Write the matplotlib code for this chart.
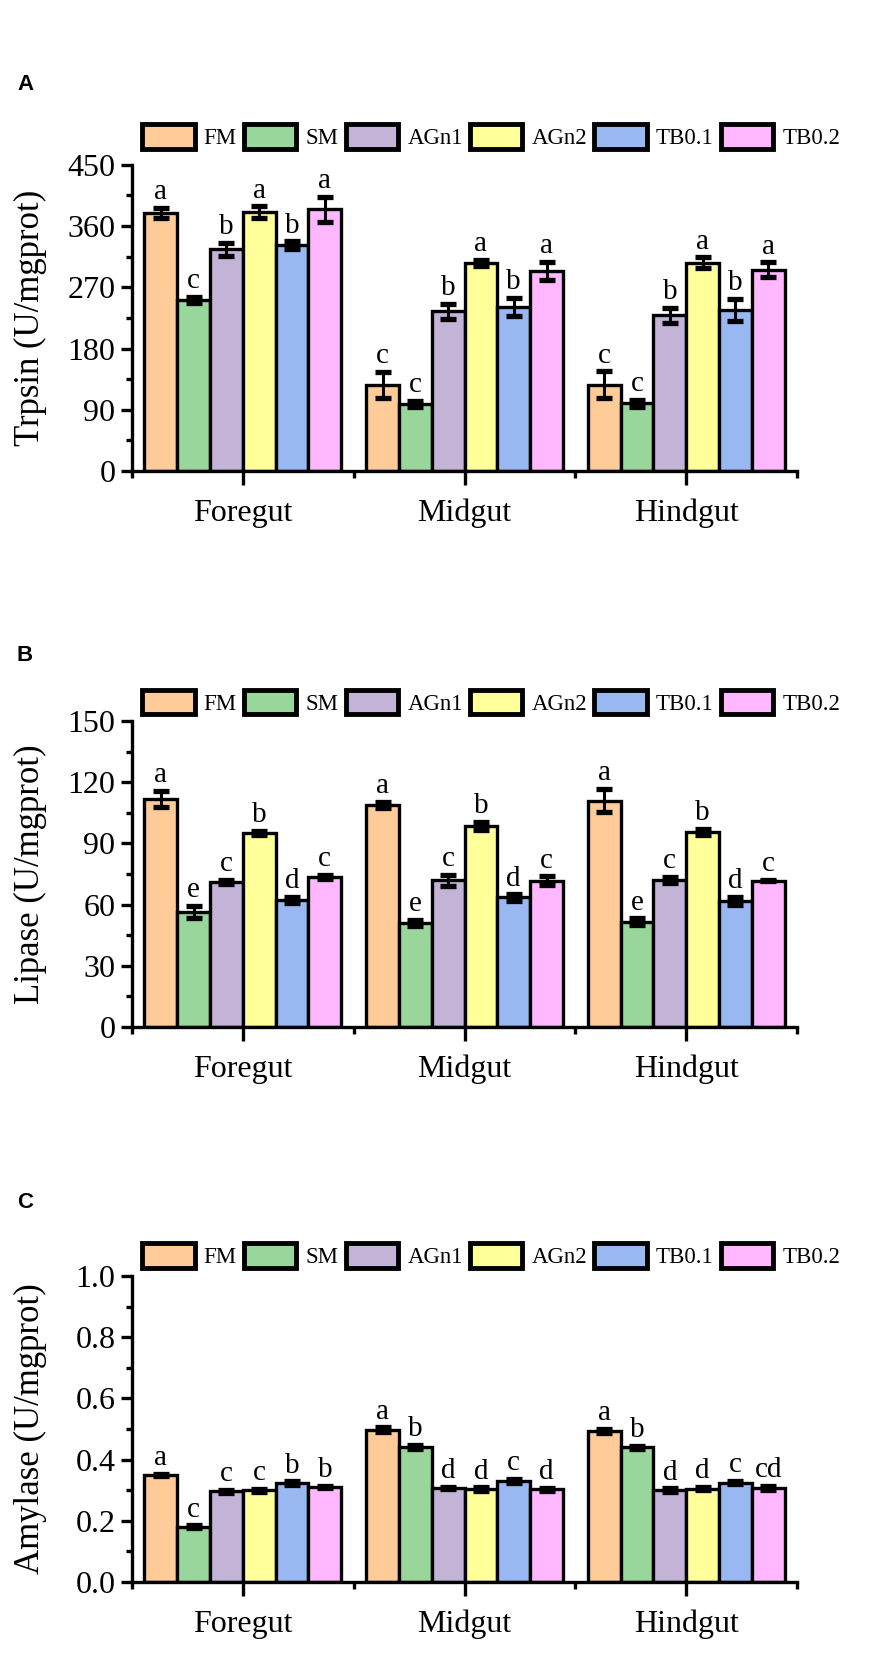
import numpy as np
import matplotlib
matplotlib.use('Agg')
import matplotlib.pyplot as plt
from matplotlib.ticker import MultipleLocator, FixedLocator

plt.rcParams['font.family'] = ['Liberation Serif', 'DejaVu Serif']

groups = ['Foregut', 'Midgut', 'Hindgut']
diets = ['FM', 'SM', 'AGn1', 'AGn2', 'TB0.1', 'TB0.2']
colors = ['#FFCC99', '#99D69B', '#C3B3D7', '#FFFF99', '#99B8F2', '#FFB8FF']

# rows = groups, columns = diets
trypsin = [[379, 251.5, 326, 380, 332, 385],
           [126.5, 98.5, 235, 306, 241.5, 294],
           [126.5, 99.5, 229, 306, 236.5, 295.5]]
trypsin_err = [[7.8, 4, 9.3, 8.8, 5.6, 18.4],
               [19, 4, 11, 4, 13, 13],
               [20, 5, 11, 8, 16, 11]]
trypsin_let = [['a', 'c', 'b', 'a', 'b', 'a'],
               ['c', 'c', 'b', 'a', 'b', 'a'],
               ['c', 'c', 'b', 'a', 'b', 'a']]

lipase = [[111.7, 56.3, 71, 95, 62.3, 73.7],
          [109, 51, 72, 98.5, 63.5, 71.8],
          [111, 51.7, 72.2, 95.6, 61.8, 71.8]]
lipase_err = [[3.9, 3, 1, 1, 1.5, 1],
              [1.5, 1.5, 2.7, 2, 1.5, 2],
              [5.7, 1.5, 1.5, 1.5, 2, 0.3]]
lipase_let = [['a', 'e', 'c', 'b', 'd', 'c'],
              ['a', 'e', 'c', 'b', 'd', 'c'],
              ['a', 'e', 'c', 'b', 'd', 'c']]

amylase = [[0.350, 0.181, 0.296, 0.299, 0.323, 0.311],
           [0.497, 0.441, 0.307, 0.303, 0.330, 0.303],
           [0.494, 0.440, 0.300, 0.305, 0.325, 0.308]]
amylase_err = [[0.004, 0.004, 0.004, 0.004, 0.006, 0.004],
               [0.008, 0.006, 0.004, 0.006, 0.006, 0.005],
               [0.006, 0.004, 0.006, 0.005, 0.006, 0.006]]
amylase_let = [['a', 'c', 'c', 'c', 'b', 'b'],
               ['a', 'b', 'd', 'd', 'c', 'd'],
               ['a', 'b', 'd', 'd', 'c', 'cd']]

panels = [
    ('A', 'Trpsin (U/mgprot)', trypsin, trypsin_err, trypsin_let, 450, 90, 1.092),
    ('B', 'Lipase (U/mgprot)', lipase, lipase_err, lipase_let, 150, 30, 1.060),
    ('C', 'Amylase (U/mgprot)', amylase, amylase_err, amylase_let, 1.0, 0.2, 1.066),
]

fig = plt.figure(figsize=(8.86, 16.67), dpi=100)
bottoms = [0.7175, 0.3839, 0.0510]
label_y = [1667 - 85, 1667 - 655, 1667 - 1202]
w = 0.148
x = np.arange(1, len(groups) + 1)

for k, (tag, ylab, vals, errs, lets, ymax, step, legy) in enumerate(panels):
    ax = fig.add_axes([0.149, bottoms[k], 0.7506, 0.1836])
    vals = np.array(vals)
    errs = np.array(errs)
    for i, d in enumerate(diets):
        xs = x + (i - 2.5) * w
        ax.bar(xs, vals[:, i], width=w, color=colors[i], edgecolor='black',
               linewidth=2.4, label=d, zorder=2)
        ax.errorbar(xs, vals[:, i], yerr=errs[:, i], fmt='none', ecolor='black',
                    elinewidth=2.2, capsize=5.5, capthick=3.8, zorder=3)
        for j in range(len(groups)):
            ax.annotate(lets[j][i], (xs[j], vals[j, i] + errs[j, i]),
                        xytext=(0, 2), textcoords='offset points',
                        ha='center', va='bottom', fontsize=21)

    ax.set_xlim(0.5, 3.5)
    ax.set_ylim(0, ymax)
    ax.yaxis.set_major_locator(MultipleLocator(step))
    ax.yaxis.set_minor_locator(MultipleLocator(step / 2))
    if ymax == 1.0:
        ax.set_yticks(np.arange(0, 1.01, 0.2))
        ax.set_yticklabels(['%.1f' % v for v in np.arange(0, 1.01, 0.2)])
    ax.set_xticks(x)
    ax.set_xticklabels(groups)
    ax.xaxis.set_minor_locator(FixedLocator([0.5, 1.5, 2.5, 3.5]))

    for side in ['top', 'right']:
        ax.spines[side].set_visible(False)
    for side in ['left', 'bottom']:
        ax.spines[side].set_linewidth(2.4)
    ax.tick_params(axis='both', which='major', direction='out', width=2.4,
                   labelsize=23)
    ax.tick_params(axis='y', which='major', length=8, pad=4)
    ax.tick_params(axis='y', which='minor', length=4, width=2.4)
    ax.tick_params(axis='x', which='major', length=10, pad=10, labelsize=23)
    ax.tick_params(axis='x', which='minor', length=5, width=2.4)
    ax.set_ylabel(ylab, fontsize=25)
    ax.yaxis.set_label_coords(-0.128, 0.5)

    leg = ax.legend(loc='center', bbox_to_anchor=(0.540, legy), ncol=6,
                    frameon=False, fontsize=16.5, handlelength=2.3,
                    handleheight=1.25, handletextpad=0.4, columnspacing=0.3,
                    borderpad=0, borderaxespad=0)
    for h in leg.legend_handles:
        h.set_linewidth(3.5)

    fig.text(17 / 886, label_y[k] / 1667, tag, fontsize=16, fontweight='bold',
             family='Liberation Sans', va='center', ha='left')

fig.savefig('out.png', dpi=100)
